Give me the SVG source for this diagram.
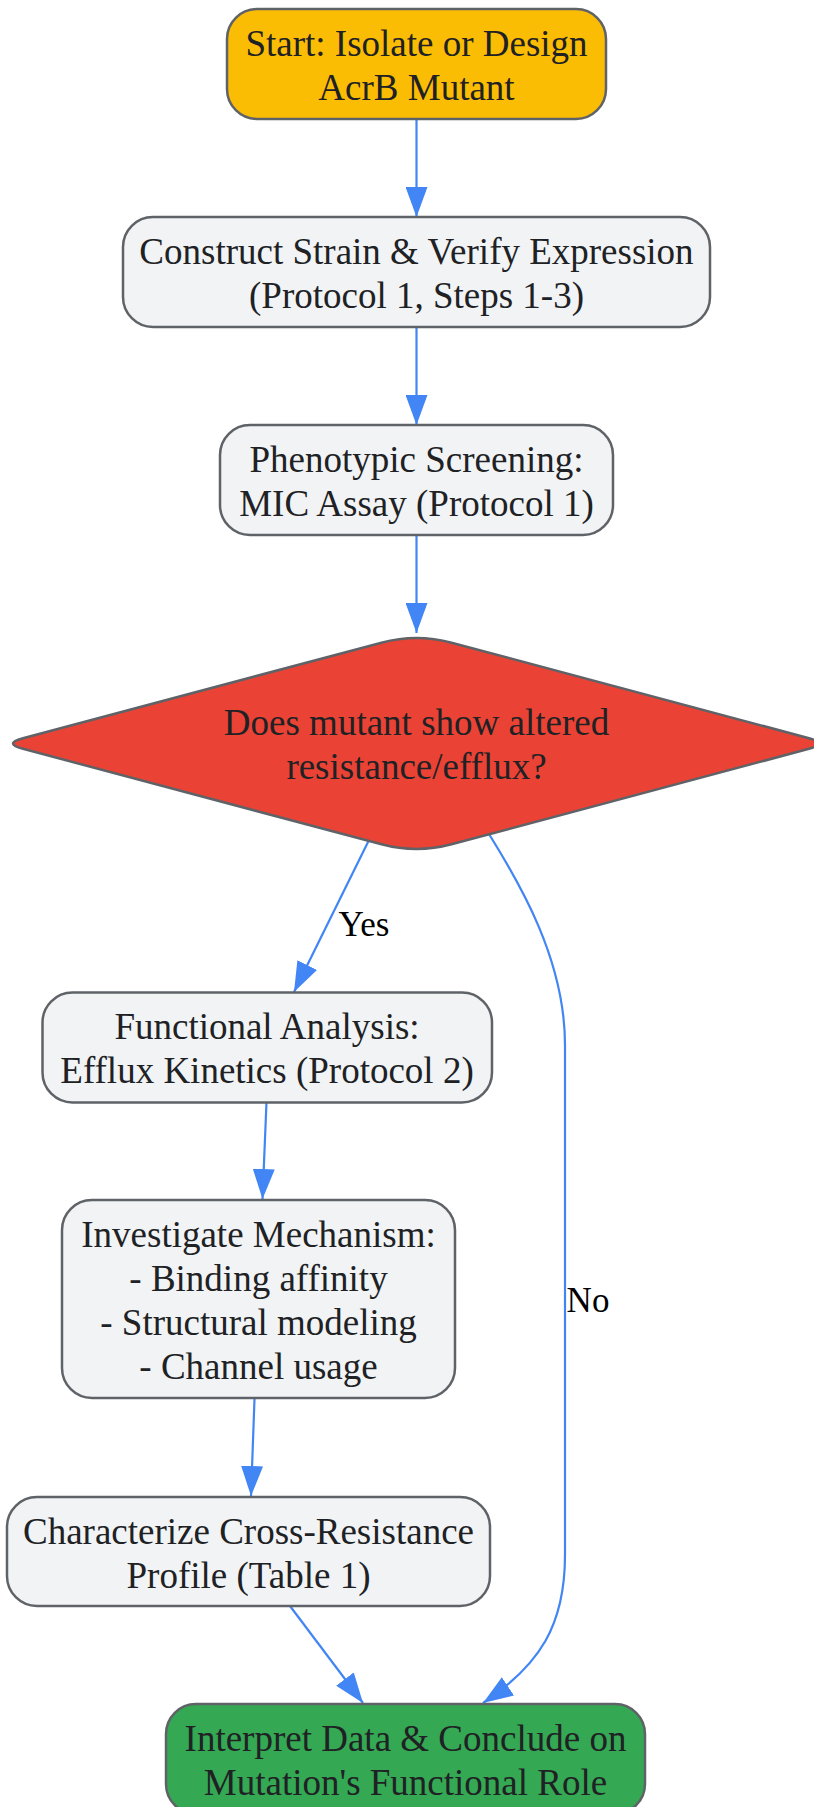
<svg xmlns="http://www.w3.org/2000/svg" width="814" height="1807" viewBox="0 0 814 1807">
<style>
.node rect, .node path { stroke: #5f6368; stroke-width: 2.5; }
.gray { fill: #F1F3F4; }
.t { font-family: "Liberation Serif", "Times New Roman", serif; font-size: 37px; fill: #202124; text-anchor: middle; }
.lbl { font-family: "Liberation Serif", "Times New Roman", serif; font-size: 35px; fill: #000; text-anchor: middle; }
.edge { fill: none; stroke: #4285F4; stroke-width: 2.2; marker-end: url(#arrow); }
</style>
<defs>
<marker id="arrow" markerUnits="userSpaceOnUse" markerWidth="30" markerHeight="22" refX="30" refY="11" orient="auto">
<path d="M0,0 L30,11 L0,22 z" fill="#4285F4"/>
</marker>
</defs>
<rect width="814" height="1807" fill="#ffffff"/>
<g id="connectors">
<path class="edge" d="M416.5,119 L416.5,217"/>
<path class="edge" d="M416.5,327 L416.5,425"/>
<path class="edge" d="M416.5,535 L416.5,633"/>
<path class="edge" d="M370,838 L294,992"/>
<path class="edge" d="M489,834 C520,884 565,960 565,1045 L565,1555 C565,1625 540,1665 483,1703"/>
<path class="edge" d="M266.5,1102 L262.5,1199"/>
<path class="edge" d="M254.5,1399 L251,1496"/>
<path class="edge" d="M290,1606 L363,1703"/>
<text class="lbl" x="364" y="936">Yes</text>
<text class="lbl" x="588" y="1312">No</text>
</g>
<g id="start" class="node">
<rect x="227" y="9" width="379" height="110" rx="30" ry="30" fill="#FBBC04"/>
<text class="t" x="416.5" y="56">Start: Isolate or Design</text>
<text class="t" x="416.5" y="100">AcrB Mutant</text>
</g>
<g id="construct" class="node">
<rect class="gray" x="123" y="217" width="587" height="110" rx="30" ry="30"/>
<text class="t" x="416.5" y="264">Construct Strain &amp; Verify Expression</text>
<text class="t" x="416.5" y="308">(Protocol 1, Steps 1-3)</text>
</g>
<g id="screening" class="node">
<rect class="gray" x="220" y="425" width="393" height="110" rx="30" ry="30"/>
<text class="t" x="416.5" y="472">Phenotypic Screening:</text>
<text class="t" x="416.5" y="516">MIC Assay (Protocol 1)</text>
</g>
<g id="decision" class="node">
<path d="M381.5,642.7 Q416.5,633.3 451.5,642.7 L809,738.2 Q829,743.5 809,748.8 L451.5,844.3 Q416.5,853.7 381.5,844.3 L23,748.8 Q3,743.5 23,738.2 Z" fill="#EA4335"/>
<text class="t" x="416.5" y="735">Does mutant show altered</text>
<text class="t" x="416.5" y="779">resistance/efflux?</text>
</g>
<g id="functional" class="node">
<rect class="gray" x="42.5" y="992.5" width="449.5" height="110" rx="30" ry="30"/>
<text class="t" x="267" y="1039">Functional Analysis:</text>
<text class="t" x="267" y="1083">Efflux Kinetics (Protocol 2)</text>
</g>
<g id="mechanism" class="node">
<rect class="gray" x="62" y="1200" width="393" height="198" rx="30" ry="30"/>
<text class="t" x="258.5" y="1247">Investigate Mechanism:</text>
<text class="t" x="258.5" y="1291">- Binding affinity</text>
<text class="t" x="258.5" y="1335">- Structural modeling</text>
<text class="t" x="258.5" y="1379">- Channel usage</text>
</g>
<g id="crossres" class="node">
<rect class="gray" x="7" y="1497" width="483" height="109" rx="30" ry="30"/>
<text class="t" x="248.5" y="1543.5">Characterize Cross-Resistance</text>
<text class="t" x="248.5" y="1587.5">Profile (Table 1)</text>
</g>
<g id="conclude" class="node">
<rect x="166" y="1704" width="479" height="110" rx="30" ry="30" fill="#34A853"/>
<text class="t" x="405.5" y="1751">Interpret Data &amp; Conclude on</text>
<text class="t" x="405.5" y="1795">Mutation's Functional Role</text>
</g>
</svg>
